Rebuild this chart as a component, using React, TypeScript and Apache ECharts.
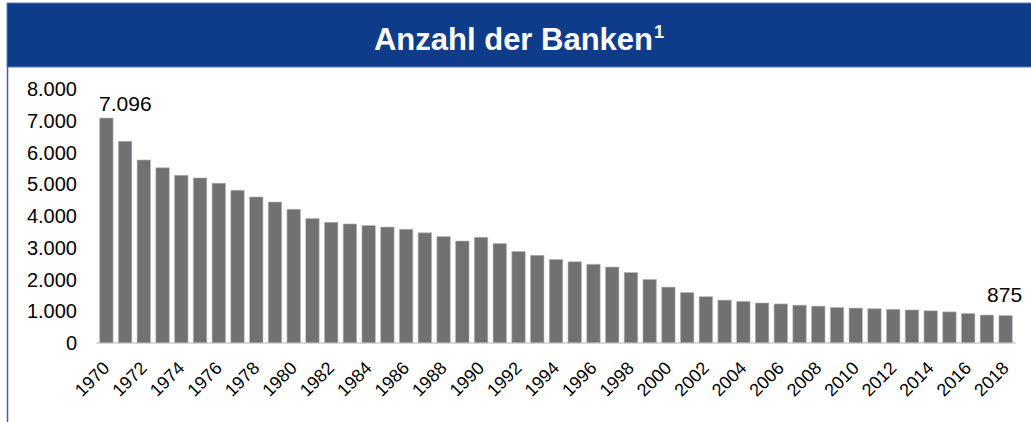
import React, { useEffect, useRef } from "react";
import * as echarts from "echarts";

const years: string[] = [];
for (let y = 1970; y <= 2018; y++) years.push(String(y));

const banks: number[] = [
  7096, 6360, 5775, 5530, 5290, 5210, 5040, 4820, 4610, 4450,
  4220, 3930, 3810, 3760, 3710, 3660, 3590, 3480, 3360, 3220,
  3340, 3140, 2890, 2770, 2640, 2570, 2490, 2400, 2230, 2010,
  1770, 1600, 1470, 1360, 1320, 1270, 1240, 1200, 1170, 1130,
  1110, 1090, 1070, 1050, 1025, 990, 940, 890, 875,
];

const yTicks: number[] = [0, 1000, 2000, 3000, 4000, 5000, 6000, 7000, 8000];

const fmt = (v: number) =>
  String(Math.round(v)).replace(/\B(?=(\d{3})+(?!\d))/g, ".");

export default function App() {
  const ref = useRef<HTMLDivElement>(null);
  useEffect(() => {
    if (!ref.current) return;
    const chart = echarts.init(ref.current, undefined, { renderer: "svg" });
    const last = banks.length - 1;
    const data = banks.map((v, i) => {
      if (i === 0)
        return {
          value: v,
          label: { show: true, position: "top", offset: [19, 0], distance: 4 },
        };
      if (i === last)
        return {
          value: v,
          label: { show: true, position: "top", offset: [-1, 0], distance: 10 },
        };
      return v;
    });
    chart.setOption({
      animation: false,
      backgroundColor: "#ffffff",
      textStyle: { fontFamily: "Liberation Sans, Arial, sans-serif" },
      graphic: [
        {
          type: "rect",
          shape: { x: 7, y: 3, width: 1030, height: 64 },
          style: { fill: "#0f3c8a", stroke: "#5c7fbf", lineWidth: 1 },
          z: 0,
        },
        {
          type: "line",
          shape: { x1: 7.5, y1: 67, x2: 7.5, y2: 422 },
          style: { stroke: "#3d63ad", lineWidth: 1.5 },
          z: 0,
        },
      ],
      title: {
        text: "Anzahl der Banken{sup|1}",
        left: 514,
        textAlign: "center",
        top: 18,
        textStyle: {
          color: "#ffffff",
          fontSize: 31,
          fontWeight: "bold",
          fontFamily: "Liberation Sans, Arial, sans-serif",
          rich: {
            sup: {
              color: "#ffffff",
              fontSize: 18,
              fontWeight: "bold",
              verticalAlign: "top",
              padding: [0, 0, 14, 1],
              fontFamily: "Liberation Sans, Arial, sans-serif",
            },
          },
        },
      },
      grid: { left: 97, right: 16, top: 89, bottom: 79, containLabel: false, outerBoundsMode: "none" },
      xAxis: {
        type: "category",
        data: years,
        axisTick: { show: false },
        axisLine: { show: true, lineStyle: { color: "#d9d9d9", width: 2 } },
        axisLabel: {
          interval: 1,
          rotate: 45,
          fontSize: 18,
          color: "#000000",
          margin: 22,
          fontFamily: "Liberation Sans, Arial, sans-serif",
        },
      },
      yAxis: {
        type: "value",
        min: yTicks[0],
        max: yTicks[yTicks.length - 1],
        interval: 1000,
        splitLine: { show: false },
        axisLine: { show: false },
        axisTick: { show: false },
        axisLabel: {
          fontSize: 20,
          color: "#000000",
          margin: 20,
          formatter: (v: number) => fmt(v),
          fontFamily: "Liberation Sans, Arial, sans-serif",
        },
      },
      series: [
        {
          type: "bar",
          data,
          barCategoryGap: "25%",
          itemStyle: { color: "#707173", borderColor: "#b9b9bb", borderWidth: 0.6 },
          label: {
            show: false,
            color: "#000000",
            fontSize: 21,
            formatter: (p: any) => fmt(p.value),
            fontFamily: "Liberation Sans, Arial, sans-serif",
          },
        },
      ],
    });
    return () => chart.dispose();
  }, []);
  return (
    <div
      ref={ref}
      style={{ position: "fixed", left: 0, top: 0, width: 1031, height: 422 }}
    />
  );
}
